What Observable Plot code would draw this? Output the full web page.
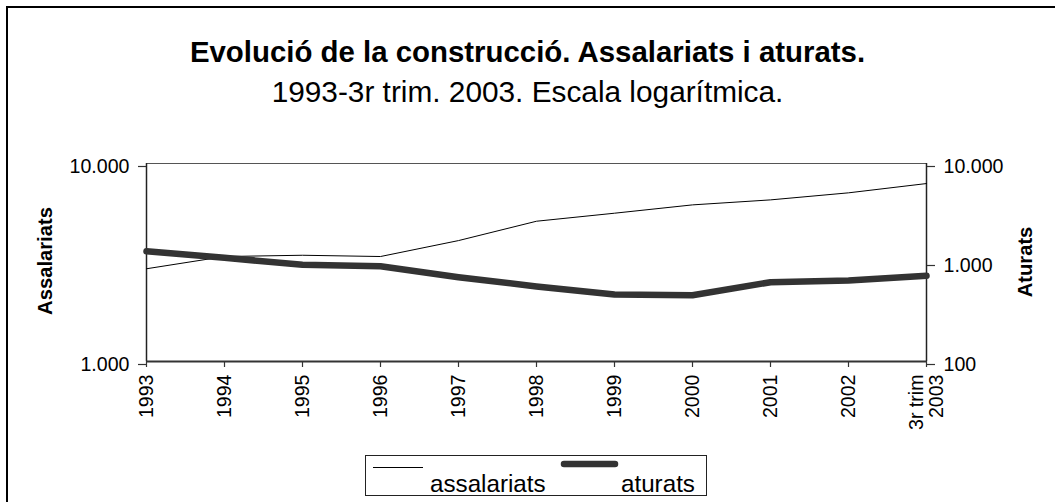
<!DOCTYPE html>
<html>
<head>
<meta charset="utf-8">
<script src="https://cdn.jsdelivr.net/npm/d3@7"></script>
<script src="https://cdn.jsdelivr.net/npm/@observablehq/plot@0.6"></script>
<style>
  html, body { margin: 0; padding: 0; width: 1055px; height: 502px; overflow: hidden; background: #fff; }
  body { position: relative; font-family: "Liberation Sans", Arial, sans-serif; color: #000; }
  #frame { position: absolute; left: 6px; top: 6px; width: 1200px; height: 700px; border: 2px solid #000; box-sizing: border-box; }
  .t { position: absolute; white-space: nowrap; line-height: 1; }
  #title { left: 0; width: 1055px; text-align: center; font-weight: bold; font-size: 29.4px; top: 37px; }
  #subtitle { left: 0; width: 1055px; text-align: center; font-size: 29.8px; top: 77px; }
  .ylab { font-weight: bold; font-size: 20.2px; transform: translate(-50%, -50%) rotate(-90deg); }
  #chart { position: absolute; left: 0; top: 130px; }
  #legend { position: absolute; left: 365px; top: 455px; width: 342px; height: 41px; border: 1px solid #222; box-sizing: border-box; background: #fff; }
  #legend span { position: absolute; font-size: 24.2px; line-height: 1; white-space: nowrap; }
  #legend svg { position: absolute; left: 0; top: 0; }
</style>
</head>
<body>
<div id="frame"></div>
<div class="t" id="title">Evolució de la construcció. Assalariats i aturats.</div>
<div class="t" id="subtitle">1993-3r trim. 2003. Escala logarítmica.</div>
<div class="t ylab" style="left:45px; top:261px;">Assalariats</div>
<div class="t ylab" style="left:1025px; top:262px;">Aturats</div>
<div id="chart"></div>
<div id="legend">
  <svg width="340" height="40">
    <line x1="7" x2="57" y1="11.5" y2="11.5" stroke="#000" stroke-width="1"></line>
    <line x1="198" x2="249" y1="8" y2="8" stroke="#333" stroke-width="6.5" stroke-linecap="round"></line>
  </svg>
  <span style="left:64px; top:16px;">assalariats</span>
  <span style="left:255px; top:16px;">aturats</span>
</div>
<script>
// ---- data ----
const years = ["1993", "1994", "1995", "1996", "1997", "1998", "1999", "2000", "2001", "2002", "3r trim\n2003"];
const assalariats = [2940, 3390, 3440, 3390, 4080, 5110, 5610, 6180, 6550, 7110, 7920];
const aturats = [1300, 1115, 948, 918, 711, 572, 475, 467, 632, 658, 734];
const leftTicks = [1000, 10000];
const rightTicks = [100, 1000, 10000];

// ---- build ----
const data = years.map((y, i) => ({year: y, assalariats: assalariats[i], aturats: aturats[i]}));
// right axis (aturats, 100..10.000) mapped onto the left log scale (1.000..10.000)
const toLeft = v => 100 * Math.sqrt(v);
const fmt = v => d3.format(",")(Math.round(v)).replace(/,/g, ".");

const chart = Plot.plot({
  width: 1055,
  height: 320,
  marginTop: 33,
  marginBottom: 89,
  marginLeft: 146,
  marginRight: 129,
  style: {fontFamily: "'Liberation Sans', Arial, sans-serif", fontSize: "19.6px", background: "transparent", color: "#000", overflow: "visible"},
  x: {type: "point", domain: years, padding: 0, axis: null},
  y: {type: "log", domain: [1000, 10000], axis: null},
  marks: [
    Plot.ruleY([10000], {stroke: "#555", strokeWidth: 1}),
    Plot.ruleX([years[0]], {stroke: "#222", strokeWidth: 1.5}),
    Plot.ruleX([years[years.length - 1]], {stroke: "#222", strokeWidth: 1.5}),
    Plot.line(data, {x: "year", y: "assalariats", stroke: "#000", strokeWidth: 1}),
    Plot.line(data, {x: "year", y: d => toLeft(d.aturats), stroke: "#333", strokeWidth: 6.5, strokeLinejoin: "round"}),
    Plot.ruleY([1000], {stroke: "#333", strokeWidth: 2}),
    Plot.axisX({anchor: "bottom", ticks: years, label: null, tickRotate: -90, tickSize: 6, tickPadding: 7, fontSize: 19.6, stroke: "#333", strokeWidth: 1.2, lineHeight: 1.0}),
    Plot.axisY({anchor: "left", ticks: leftTicks, label: null, tickFormat: fmt, tickSize: 8, tickPadding: 9, fontSize: 19.6, dy: 3, stroke: "#333", strokeWidth: 1.2}),
    Plot.axisY({anchor: "right", ticks: rightTicks.map(toLeft), label: null, tickFormat: v => fmt((v / 100) ** 2), tickSize: 8, tickPadding: 9, fontSize: 19.6, dy: 3, stroke: "#333", strokeWidth: 1.2})
  ]
});
document.getElementById("chart").appendChild(chart);
</script>
</body>
</html>
